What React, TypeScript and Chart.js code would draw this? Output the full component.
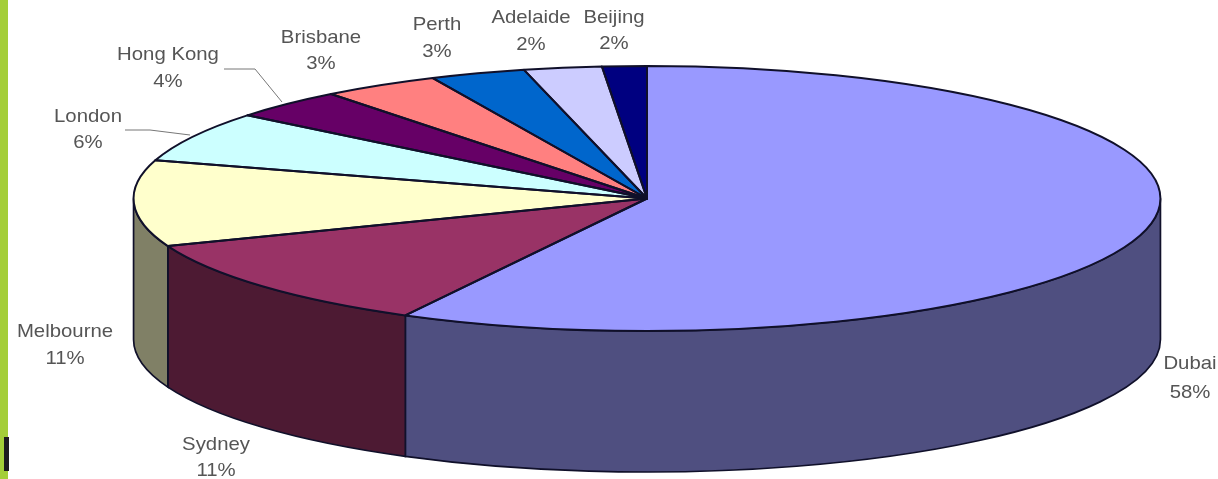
import React, { useEffect, useRef } from "react";
import Chart from "chart.js/auto";

const categories = ["Dubai", "Sydney", "Melbourne", "London", "Hong Kong", "Brisbane", "Perth", "Adelaide", "Beijing"];
const sliceValues = [57.8, 11.35, 10.5, 6.15, 3.65, 3.7, 3.0, 2.45, 1.4];
const percentLabels = ["58%", "11%", "11%", "6%", "4%", "3%", "3%", "2%", "2%"];
const topColors = ["#9999FF", "#993366", "#FFFFCC", "#CCFFFF", "#660066", "#FF8080", "#0066CC", "#CCCCFF", "#000080"];
const sideColors = ["#4F4F80", "#4D1A33", "#808066", "#668080", "#330033", "#804040", "#003366", "#666680", "#000040"];
const labelCenters: [number, number, number][] = [
  [1190, 364, 393], [216, 445, 471], [65, 332, 359], [88, 117, 143], [168, 55, 82],
  [321, 38, 64], [437, 25, 52], [531, 18, 45], [614, 18, 44],
];
const leaderLines: [number, number][][] = [
  [[125, 130], [150, 130], [190, 135]],
  [[224, 69], [255, 69], [282, 102]],
];

const STRETCH = 3.875;
const DEPTH = 141;
const EDGE = "#10102a";

const wedgePlugin = {
  id: "wedge3d",
  beforeDatasetsDraw(chart: any) {
    const ctx = chart.ctx;
    const arcs = chart.getDatasetMeta(0).data;
    const { x: cx, y: cy, outerRadius: R } = arcs[0];
    const rx = R * STRETCH;
    ctx.save();
    arcs.forEach((arc: any, i: number) => {
      // keep only the part of the slice that faces the viewer
      const overlapStart = Math.max(arc.startAngle, 0), overlapEnd = Math.min(arc.endAngle, Math.PI);
      if (overlapEnd <= overlapStart) return;
      ctx.beginPath();
      ctx.ellipse(cx, cy, rx, R, 0, overlapStart, overlapEnd);
      ctx.ellipse(cx, cy + DEPTH, rx, R, 0, overlapEnd, overlapStart, true);
      ctx.closePath();
      ctx.fillStyle = sideColors[i];
      ctx.fill();
      ctx.strokeStyle = EDGE;
      ctx.lineWidth = 1.7;
      ctx.stroke();
    });
    ctx.restore();
    ctx.save();
    ctx.translate(cx, cy);
    ctx.scale(STRETCH, 1);
    ctx.translate(-cx, -cy);
  },
  afterDatasetsDraw(chart: any) {
    const ctx = chart.ctx;
    ctx.restore();
    const arcs = chart.getDatasetMeta(0).data;
    const { x: cx, y: cy, outerRadius: R } = arcs[0];
    const rx = R * STRETCH;
    ctx.save();
    ctx.strokeStyle = EDGE;
    ctx.lineWidth = 2;
    ctx.lineJoin = "round";
    arcs.forEach((arc: any) => {
      ctx.beginPath();
      ctx.moveTo(cx, cy);
      ctx.ellipse(cx, cy, rx, R, 0, arc.startAngle, arc.endAngle);
      ctx.closePath();
      ctx.stroke();
    });
    ctx.strokeStyle = "#777777";
    ctx.lineWidth = 1;
    leaderLines.forEach((pts) => {
      ctx.beginPath();
      pts.forEach(([x, y], i) => (i ? ctx.lineTo(x, y) : ctx.moveTo(x, y)));
      ctx.stroke();
    });
    ctx.fillStyle = "#555555";
    ctx.font = '18.5px "Liberation Sans"';
    ctx.textAlign = "center";
    ctx.textBaseline = "middle";
    const drawText = (t: string, x: number, y: number) => {
      ctx.save();
      ctx.translate(x, y);
      ctx.scale(1.1, 1);
      ctx.fillText(t, 0, 0);
      ctx.restore();
    };
    categories.forEach((c, i) => {
      const [x, y1, y2] = labelCenters[i];
      drawText(c, x, y1);
      drawText(percentLabels[i], x, y2);
    });
    ctx.restore();
  },
};

export default function App() {
  const ref = useRef<HTMLCanvasElement>(null);
  useEffect(() => {
    const chart = new Chart(ref.current as HTMLCanvasElement, {
      type: "pie",
      data: {
        labels: categories,
        datasets: [{ data: sliceValues, backgroundColor: topColors, borderWidth: 0, clip: false } as any],
      },
      options: {
        responsive: false,
        animation: false,
        devicePixelRatio: 1,
        layout: { padding: { left: 514.5, right: 438.5, top: 66, bottom: 148 } },
        plugins: { legend: { display: false }, tooltip: { enabled: false }, title: { display: false } },
      },
      plugins: [wedgePlugin],
    } as any);
    return () => chart.destroy();
  }, []);
  return (
    <div style={{ position: "fixed", left: 0, top: 0, width: 1218, height: 479, background: "#fff", overflow: "hidden" }}>
      <canvas ref={ref} width={1218} height={479} style={{ position: "absolute", left: 0, top: 0, filter: "blur(0.6px)" }} />
      <div style={{ position: "absolute", left: 0, top: 0, width: 8, height: 479, background: "#A4CE39" }} />
      <div style={{ position: "absolute", left: 4, top: 437, width: 5, height: 34, background: "#1d1a20" }} />
    </div>
  );
}
